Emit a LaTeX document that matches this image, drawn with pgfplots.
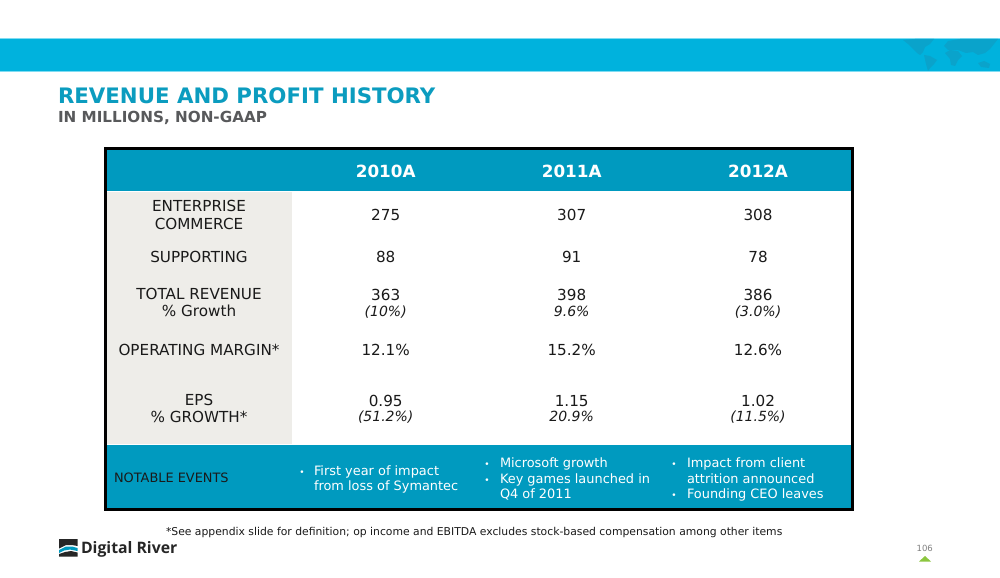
\documentclass[border=0pt]{standalone}
\usepackage{pgfplots}
\usepackage{pgfplotstable}
\usepackage{fontspec}
\pgfplotsset{compat=1.18}
\setmainfont{DejaVu Sans}
\newfontfamily\logofont{Open Sans}
\definecolor{band}{HTML}{00B2DD}
\definecolor{bandline}{HTML}{7FDCF2}
\definecolor{mapblue}{HTML}{0AA3CB}
\definecolor{teal}{HTML}{009ABF}
\definecolor{titleblue}{HTML}{0B9CBF}
\definecolor{subgrey}{HTML}{58595B}
\definecolor{rowgrey}{HTML}{EEEDE9}
\definecolor{txt}{HTML}{1A1A1A}
\definecolor{arrowgreen}{HTML}{8CC63F}
\tikzset{every node/.append style={inner sep=0pt,outer sep=0pt}}
% one table per text size: x of column, y of baseline
\pgfplotstableread[col sep=comma]{
x,y,label
385.7,220,275
571.7,220,307
758,220,308
385.7,262.7,88
571.7,262.7,91
758,262.7,78
385.7,300.3,363
571.7,300.3,398
758,300.3,386
385.7,355.5,12.1\%
571.7,355.5,15.2\%
758,355.5,12.6\%
385.7,406.2,0.95
571.7,406.2,1.15
758,406.2,1.02
}\valuetable
\pgfplotstableread[col sep=comma]{
x,y,label
385.7,316,(10\%)
571.7,316,9.6\%
758,316,(3.0\%)
385.7,421.7,(51.2\%)
571.7,421.7,20.9\%
758,421.7,(11.5\%)
}\growthtable
\begin{document}
\begin{tikzpicture}
\begin{axis}[
    scale only axis,
    width=1000bp,
    height=577bp,
    xmin=0, xmax=1000,
    ymin=0, ymax=577,
    y dir=reverse,
    axis lines=none,
    clip=true,
]
% page
\addplot[draw=none,fill=white,forget plot] coordinates {(0,0) (1000,0) (1000,577) (0,577)} -- cycle;
% top band
\addplot[draw=none,fill=bandline,forget plot] coordinates {(0,38) (1000,38) (1000,72) (0,72)} -- cycle;
\addplot[draw=none,fill=band,forget plot] coordinates {(0,39) (1000,39) (1000,71) (0,71)} -- cycle;
% rough world map in the band
\addplot[draw=none,fill=mapblue,forget plot] coordinates {(903,40) (915,39) (934,39) (930,44) (925,47) (923,52) (920,55) (917,53) (913,49) (908,44)} -- cycle;
\addplot[draw=none,fill=mapblue,forget plot] coordinates {(924,55) (930,56) (937,60) (934,64) (930,68) (928,71) (926,64)} -- cycle;
\addplot[draw=none,fill=mapblue,forget plot] coordinates {(944,46) (948,41) (960,39) (998,39) (994,44) (990,49) (985,53) (978,55) (973,52) (966,53) (958,50) (948,50)} -- cycle;
\addplot[draw=none,fill=mapblue,forget plot] coordinates {(945,53) (950,50) (958,51) (962,56) (958,60) (955,66) (951,65) (950,59)} -- cycle;
\addplot[draw=none,fill=mapblue,forget plot] coordinates {(978,63) (984,61) (990,64) (989,68) (981,67)} -- cycle;
% table background
\addplot[draw=none,fill=white,forget plot] coordinates {(105,148) (853,148) (853,510) (105,510)} -- cycle;
\addplot[draw=none,fill=teal,forget plot] coordinates {(106,149) (852,149) (852,191) (106,191)} -- cycle;
\addplot[draw=none,fill=rowgrey,forget plot] coordinates {(106,192) (292,192) (292,444) (106,444)} -- cycle;
\addplot[draw=none,fill=teal,forget plot] coordinates {(106,445) (852,445) (852,510) (106,510)} -- cycle;
\addplot[draw=black,line width=3bp,forget plot] coordinates {(105.2,148.2) (852,148.2) (852,509.5) (105.2,509.5)} -- cycle;
% page marker
\addplot[draw=none,fill=arrowgreen,forget plot] coordinates {(919,561.5) (925,556) (931,561.5)} -- cycle;
% logo mark
\addplot[draw=none,fill=black!85,forget plot] coordinates {(59,539) (77.5,539) (77.5,546) (72,545) (66,545) (59,548.5)} -- cycle;
\addplot[draw=none,fill=teal,forget plot] coordinates {(59,550) (66,546.5) (72,546.5) (77.5,548) (77.5,551) (70,549.5) (64,550.5) (59,553)} -- cycle;
\addplot[draw=none,fill=black!85,forget plot] coordinates {(59,554) (65,552) (71,551) (77.5,552.5) (77.5,556.5) (59,556.5)} -- cycle;
% values
\addplot[only marks,mark=none,forget plot,nodes near coords,point meta=explicit symbolic,
    nodes near coords style={anchor=base,font=\fontsize{15.2bp}{18bp}\selectfont,text=txt}]
    table[x=x,y=y,meta=label,col sep=comma] {\valuetable};
\addplot[only marks,mark=none,forget plot,nodes near coords,point meta=explicit symbolic,
    nodes near coords style={anchor=base,font=\fontsize{14bp}{16bp}\itshape\selectfont,text=txt}]
    table[x=x,y=y,meta=label,col sep=comma] {\growthtable};
% text
\node[anchor=base west,font=\fontsize{21.3bp}{24bp}\bfseries\selectfont,text=titleblue] at (axis cs:58,103) {REVENUE AND PROFIT HISTORY};
\node[anchor=base west,font=\fontsize{15.2bp}{18bp}\bfseries\selectfont,text=subgrey] at (axis cs:58,122) {IN MILLIONS, NON-GAAP};
\foreach \x/\lab in {385.7/2010A,571.7/2011A,758/2012A}{
  \edef\tmp{\noexpand\node[anchor=base,font=\noexpand\fontsize{16.8bp}{20bp}\noexpand\bfseries\noexpand\selectfont,text=white] at (axis cs:\x,177.7) {\lab};}\tmp
}
\foreach \y/\lab in {211/ENTERPRISE,229/COMMERCE,262.7/SUPPORTING,299.3/TOTAL REVENUE,316.7/\% Growth,355.5/OPERATING MARGIN*,405/EPS,422.7/\% GROWTH*}{
  \edef\tmp{\noexpand\node[anchor=base,font=\noexpand\fontsize{15.2bp}{18bp}\noexpand\selectfont,text=txt] at (axis cs:199,\y) {\unexpanded\expandafter{\lab}};}\tmp
}
\node[anchor=base west,font=\fontsize{12.9bp}{15bp}\selectfont,text=txt] at (axis cs:114,482.7) {NOTABLE EVENTS};
\node[anchor=base west,font=\fontsize{10.8bp}{13bp}\selectfont,text=txt] at (axis cs:166,535.3) {*See appendix slide for definition; op income and EBITDA excludes stock-based compensation among other items};
\foreach \x/\y/\lab in {314/475.3/First year of impact,314/490.5/from loss of Symantec,500/467.5/Microsoft growth,500/483/Key games launched in,500/498.5/Q4 of 2011,687/467.5/Impact from client,687/483/attrition announced,687/498.5/Founding CEO leaves}{
  \edef\tmp{\noexpand\node[anchor=base west,font=\noexpand\fontsize{12.9bp}{15bp}\noexpand\selectfont,text=white] at (axis cs:\x,\y) {\lab};}\tmp
}
\foreach \x/\y in {302/475.3,487/467.5,487/483,674/467.5,674/498.5}{
  \edef\tmp{\noexpand\node[anchor=base,font=\noexpand\fontsize{9bp}{11bp}\noexpand\selectfont,text=white] at (axis cs:\x,\y) {•};}\tmp
}
\node[anchor=base west,font=\logofont\fontsize{15.8bp}{18bp}\bfseries\selectfont,text=black!85] at (axis cs:81,553.3) {Digital River};
\node[anchor=base,font=\fontsize{8.5bp}{10bp}\selectfont,text=black!50] at (axis cs:924.7,551.7) {106};
\end{axis}
\end{tikzpicture}
\end{document}
